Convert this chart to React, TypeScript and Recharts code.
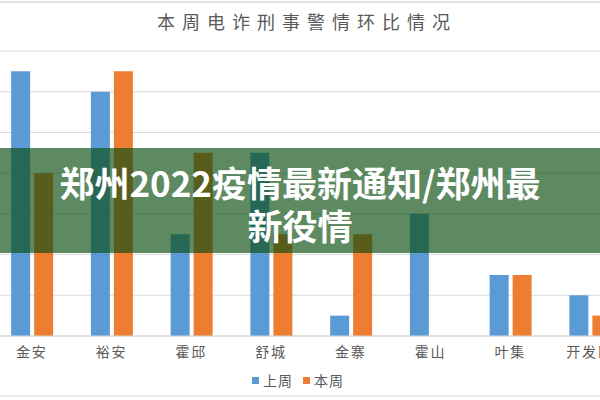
import { Bar, BarChart, CartesianGrid, XAxis, YAxis } from "recharts";

const categories = ["金安", "裕安", "霍邱", "舒城", "金寨", "霍山", "叶集", "开发区"];
const lastWeek = [13, 12, 5, 9, 1, 6, 3, 2];
const thisWeek = [8, 13, 9, 5, 5, 0, 3, 1];
const yTicks = [0, 2, 4, 6, 8, 10, 12, 14];
const seriesNames = ["上周", "本周"];
const colors = ["#5b9bd5", "#ed7d31"];

const data = categories.map((name, i) => ({
  name,
  lastWeek: lastWeek[i],
  thisWeek: thisWeek[i],
}));

const cjk = '"Noto Sans CJK SC", "Noto Sans", sans-serif';

function LegendRow() {
  return (
    <div
      style={{
        position: "absolute",
        left: 0,
        top: 370,
        width: 600,
        display: "flex",
        justifyContent: "center",
        alignItems: "center",
        fontFamily: cjk,
        fontSize: 14,
        lineHeight: "20px",
        color: "#595959",
        gap: 6,
      }}
    >
      {seriesNames.map((n, i) => (
        <span key={n} style={{ display: "flex", alignItems: "center", gap: 4, marginRight: 4 }}>
          <span style={{ width: 7, height: 7, background: colors[i], display: "inline-block" }} />
          <span style={{ letterSpacing: 1 }}>{n}</span>
        </span>
      ))}
    </div>
  );
}

export default function App() {
  return (
    <div
      style={{
        position: "absolute",
        left: 0,
        top: 0,
        width: 600,
        height: 400,
        overflow: "hidden",
        background: "#fff",
      }}
    >
      <div style={{ position: "absolute", left: 0, top: 1, width: 600, height: 2, background: "#e3e3e3" }} />
      <div style={{ position: "absolute", left: 0, top: 395, width: 600, height: 2, background: "#ececec" }} />
      <div
        style={{
          position: "absolute",
          left: 0,
          top: 8,
          width: 600,
          textAlign: "center",
          fontFamily: cjk,
          fontSize: 18,
          letterSpacing: 7,
          color: "#595959",
          lineHeight: "26px",
          paddingLeft: 7,
        }}
      >
        本周电诈刑事警情环比情况
      </div>
      <div style={{ position: "absolute", left: -8, top: 0 }}>
        <BarChart
          width={638}
          height={400}
          data={data}
          margin={{ top: 51, right: 0, bottom: 34, left: 0 }}
          barCategoryGap="24%"
          barGap={4}
        >
          <CartesianGrid stroke="#d9d9d9" vertical={false} />
          <XAxis
            dataKey="name"
            height={30}
            axisLine={{ stroke: "#d9d9d9" }}
            tickLine={false}
            tickMargin={5}
            interval={0}
            tick={{ fill: "#595959", fontSize: 14, fontFamily: cjk, letterSpacing: 2 }}
          />
          <YAxis hide domain={[0, 14]} ticks={yTicks} />
          <Bar dataKey="lastWeek" name={seriesNames[0]} fill={colors[0]} isAnimationActive={false} />
          <Bar dataKey="thisWeek" name={seriesNames[1]} fill={colors[1]} isAnimationActive={false} />
        </BarChart>
      </div>
      <LegendRow />
      <div
        style={{
          position: "absolute",
          left: 0,
          top: 148,
          width: 600,
          height: 105,
          background: "rgba(11, 78, 17, 0.66)",
          display: "flex",
          alignItems: "center",
          justifyContent: "center",
        }}
      >
        <div
          style={{
            color: "#fff",
            fontFamily: cjk,
            fontWeight: 700,
            fontSize: 35,
            lineHeight: "43px",
            textAlign: "center",
            marginTop: 4,
          }}
        >
          郑州2022疫情最新通知/郑州最
          <br />
          新役情
        </div>
      </div>
    </div>
  );
}
